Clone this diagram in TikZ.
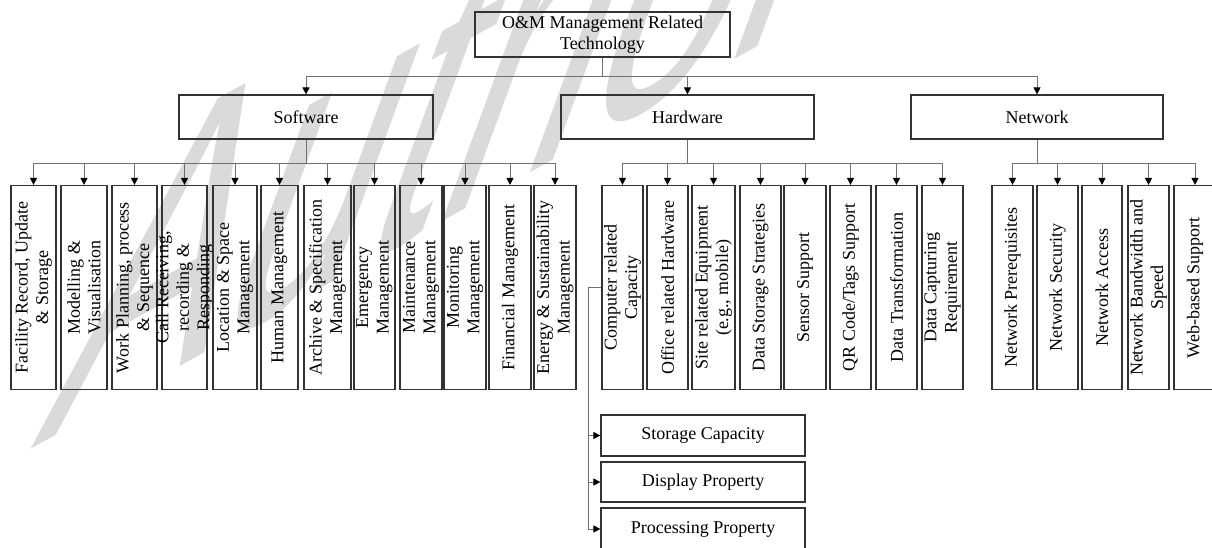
\documentclass[tikz,border=0pt]{standalone}
\usepackage{fontspec}
\setmainfont{Liberation Serif}
\newfontfamily\wmfont{Liberation Sans}
\usetikzlibrary{arrows.meta}

\definecolor{boxline}{HTML}{333333}
\definecolor{connline}{HTML}{707070}
\definecolor{wmgray}{HTML}{DADADA}

% one tall box of the third level with its text set upright along the box
\newcommand\leafbox[4]{%
  \node[leaf, minimum width=#3pt] (#1) at (#2,287.5) {};
  \node[vtext] (#1t) at (#1.center) {#4};}

\begin{document}
\begin{tikzpicture}[x=1pt, y=-1pt,
  box/.style={draw=boxline, line width=1.2pt, inner sep=0pt},
  hbox/.style={box, minimum height=44pt},
  leaf/.style={box, minimum height=204pt},
  vtext/.style={rotate=90, align=center, inner sep=0pt,
                font=\fontsize{18}{20.5}\selectfont},
  htext/.style={align=center, inner sep=0pt,
                font=\fontsize{18}{20.5}\selectfont},
  conn/.style={draw=connline, line width=0.9pt},
  arr/.style={conn, -{Triangle[width=7pt, length=7pt, color=black]}},
  wm/.style={text=wmgray, inner sep=0pt, anchor=base west,
             font=\wmfont\fontsize{300}{300}\selectfont,
             cm={0.875,0.485,0.55,1.5,(0,0)}},
]
\useasboundingbox (0,0) rectangle (1212,547);
\clip (0,0) rectangle (1212,547);
\fill[white] (0,0) rectangle (1212,547);

% watermark behind the chart
\node[wm] (mark) at (30,450) {Author};

% first and second levels
\node[hbox, minimum width=255pt, minimum height=45pt] (top) at (602.5,34.5) {};
\node[htext] (topt) at (top.center) {O\&M Management Related\\Technology};
\node[hbox, minimum width=254pt] (sw) at (306,117) {};
\node[htext] (swt) at (sw.center) {Software};
\node[hbox, minimum width=253pt] (hw) at (687.5,117) {};
\node[htext] (hwt) at (hw.center) {Hardware};
\node[hbox, minimum width=252pt] (nw) at (1037,117) {};
\node[htext] (nwt) at (nw.center) {Network};

% software
\leafbox{s1}{33.5}{45}{Facility Record, Update\\\& Storage}
\leafbox{s2}{84}{46}{Modelling \&\\Visualisation}
\leafbox{s3}{134.5}{45}{Work Planning, process\\\& Sequence}
\leafbox{s4}{184.5}{45}{Call Receiving,\\recording \&\\Responding}
\leafbox{s5}{235}{44}{Location \& Space\\Management}
\leafbox{s6}{279.5}{37}{Human Management}
\leafbox{s7}{327.5}{47}{Archive \& Specification\\Management}
\leafbox{s8}{374.5}{41}{Emergency\\Management}
\leafbox{s9}{421}{42}{Maintenance\\Management}
\leafbox{s10}{465}{42}{Monitoring\\Management}
\leafbox{s11}{510}{42}{Financial Management}
\leafbox{s12}{555}{42}{Energy \& Sustainability\\Management}

% hardware
\leafbox{h1}{622.5}{41}{Computer related\\Capacity}
\leafbox{h2}{667.5}{41}{Office related Hardware}
\leafbox{h3}{713.5}{43}{Site related Equipment\\(e.g., mobile)}
\leafbox{h4}{760.5}{41}{Data Storage Strategies}
\leafbox{h5}{805}{42}{Sensor Support}
\leafbox{h6}{850.5}{41}{QR Code/Tags Support}
\leafbox{h7}{896.5}{41}{Data Transformation}
\leafbox{h8}{942.5}{41}{Data Capturing\\Requirement}

% network
\leafbox{n1}{1012.5}{41}{Network Prerequisites}
\leafbox{n2}{1057.5}{41}{Network Security}
\leafbox{n3}{1102}{40}{Network Access}
\leafbox{n4}{1148.5}{41}{Network Bandwidth and\\Speed}
\leafbox{n5}{1195}{42}{Web-based Support}

% computer capacity details
\node[hbox, minimum width=204pt, minimum height=41pt] (sc) at (703,435.5) {};
\node[htext] (sct) at (sc.center) {Storage Capacity};
\node[hbox, minimum width=204pt, minimum height=40pt] (dp) at (703,482) {};
\node[htext] (dpt) at (dp.center) {Display Property};
\node[hbox, minimum width=204pt, minimum height=42pt] (pp) at (703,529) {};
\node[htext] (ppt) at (pp.center) {Processing Property};

% connectors
\foreach \b in {sw,hw,nw}
  \draw[arr] (top.south) -- ++(0,19) -| (\b.north);
\foreach \i in {1,...,12}
  \draw[arr] (sw.south) -- ++(0,24) -| (s\i.north);
\foreach \i in {1,...,8}
  \draw[arr] (hw.south) -- ++(0,24) -| (h\i.north);
\foreach \i in {1,...,5}
  \draw[arr] (nw.south) -- ++(0,24) -| (n\i.north);

\coordinate (jn) at (588,287.5);
\draw[arr] (h1.west) -- (jn) |- (sc.west);
\draw[arr] (jn) |- (dp.west);
\draw[arr] (jn) |- (pp.west);
\end{tikzpicture}
\end{document}
